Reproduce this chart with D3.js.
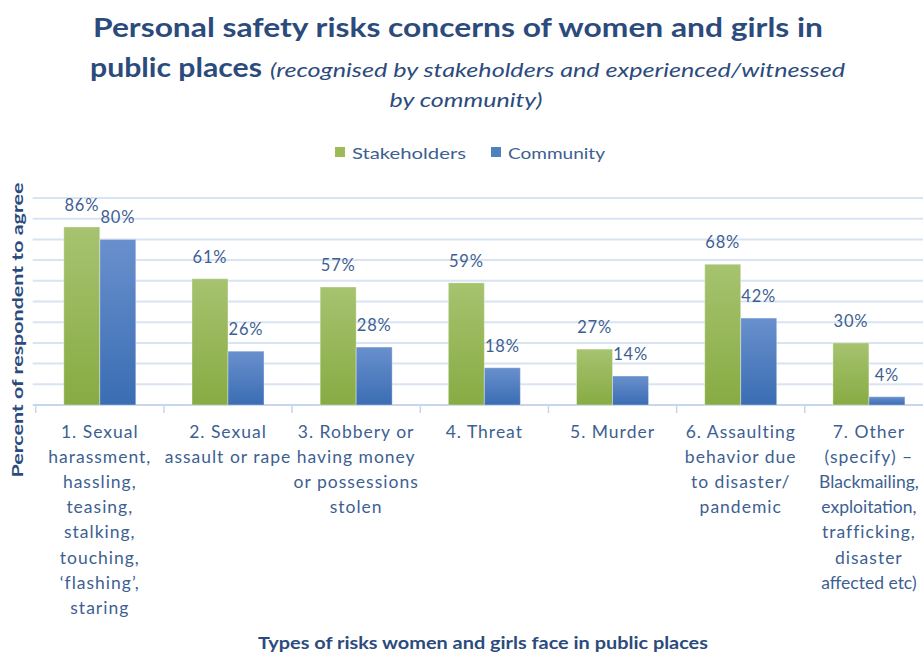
<!DOCTYPE html>
<html>
<head>
<meta charset="utf-8">
<script src="https://cdn.jsdelivr.net/npm/d3@7"></script>
<style>
  html, body { margin: 0; padding: 0; background: #fff; }
  svg { display: block; font-family: Lato, "Open Sans", sans-serif; }
</style>
</head>
<body>
<svg id="chart" width="923" height="655"></svg>
<script>
// Risk categories (each entry is a list of wrapped label lines)
const categories = [
  ["1. Sexual", "harassment,", "hassling,", "teasing,", "stalking,", "touching,", "\u2018flashing\u2019,", "staring"],
  ["2. Sexual", "assault or rape"],
  ["3. Robbery or", "having money", "or possessions", "stolen"],
  ["4. Threat"],
  ["5. Murder"],
  ["6. Assaulting", "behavior due", "to disaster/", "pandemic"],
  ["7. Other", "(specify) \u2013", "Blackmailing,", "exploitation,", "trafficking,", "disaster", "affected etc)"]
];
const seriesNames = ["Stakeholders", "Community"];
const stakeholders = [86, 61, 57, 59, 27, 68, 30];
const community = [80, 26, 28, 18, 14, 42, 4];
const yTicks = [0, 10, 20, 30, 40, 50, 60, 70, 80, 90, 100];

const svg = d3.select("#chart");
const W = 923, H = 655;
const plot = { left: 35.7, right: 933, top: 198, bottom: 405 };

const titleColor = "#2c4b7d";
const textColor = "#3d5f92";

// gradients for bars
const defs = svg.append("defs");
function grad(id, top, bottom) {
  const g = defs.append("linearGradient").attr("id", id)
    .attr("x1", 0).attr("y1", 0).attr("x2", 0).attr("y2", 1);
  g.append("stop").attr("offset", "0%").attr("stop-color", top);
  g.append("stop").attr("offset", "100%").attr("stop-color", bottom);
}
grad("gGreen", "#a6c36f", "#88ab43");
grad("gBlue", "#6990cd", "#3a6db3");
const fills = ["url(#gGreen)", "url(#gBlue)"];
const legendFills = ["#9bbb59", "#4f81bd"];

const x = d3.scaleBand().domain(d3.range(categories.length))
  .range([plot.left, plot.right]).paddingInner(0).paddingOuter(0);
const xs = d3.scaleBand().domain([0, 1]).range([0, 72]);
const groupOffset = (x.bandwidth() - 72) / 2;
const y = d3.scaleLinear().domain([0, 100]).range([plot.bottom, plot.top]);

// horizontal gridlines
svg.append("g").selectAll("line").data(yTicks.slice(1)).join("line")
  .attr("x1", plot.left - 3).attr("x2", W)
  .attr("y1", d => y(d)).attr("y2", d => y(d))
  .attr("stroke", "#d9e4f3").attr("stroke-width", 2);

// x axis baseline with category separators
const xAxis = d3.axisBottom(x).tickValues([]).tickSizeOuter(0);
const axisG = svg.append("g").attr("transform", `translate(0,${plot.bottom})`).call(xAxis);
axisG.select(".domain").attr("stroke", "#c6d6ec").attr("stroke-width", 2).attr("d", `M${plot.left - 3},0H${W}`);
axisG.selectAll(".sep").data(d3.range(categories.length + 1)).join("line")
  .attr("class", "sep")
  .attr("x1", i => plot.left + i * x.step()).attr("x2", i => plot.left + i * x.step())
  .attr("y1", 0).attr("y2", 8)
  .attr("stroke", "#c6d6ec").attr("stroke-width", 1.5);

// bars and value labels
const series = [stakeholders, community];
series.forEach((vals, s) => {
  const g = svg.append("g");
  g.selectAll("rect").data(vals).join("rect")
    .attr("x", (d, i) => x(i) + groupOffset + xs(s))
    .attr("y", d => y(d))
    .attr("width", xs.bandwidth())
    .attr("height", d => plot.bottom - y(d))
    .attr("fill", fills[s])
    .attr("stroke", "rgba(255,255,255,0.35)").attr("stroke-width", 1);
  g.selectAll("text").data(vals).join("text")
    .attr("x", (d, i) => x(i) + groupOffset + xs(s) + xs.bandwidth() / 2)
    .attr("y", d => y(d) - 16)
    .attr("text-anchor", "middle")
    .attr("font-size", 16.5)
    .attr("letter-spacing", 0.8)
    .attr("fill", textColor)
    .text(d => d + "%");
});

// category labels; a line that would run past the right edge is tightened
const lab = svg.append("g");
categories.forEach((lines, i) => {
  const cx = x(i) + x.bandwidth() / 2;
  const maxW = 2 * (W - 4 - cx);
  lines.forEach((ln, k) => {
    const t = lab.append("text")
      .attr("x", cx)
      .attr("y", 438 + k * 25.1)
      .attr("text-anchor", "middle")
      .attr("font-size", 17.5)
      .attr("letter-spacing", 1)
      .attr("fill", textColor)
      .text(ln);
    if (t.node().getBBox().width > maxW) {
      t.attr("letter-spacing", 0);
      let fs = 17.5;
      while (t.node().getBBox().width > maxW && fs > 12) {
        fs -= 0.25;
        t.attr("font-size", fs);
      }
    }
  });
});

// title
svg.append("text").attr("x", 458).attr("y", 37)
  .attr("text-anchor", "middle").attr("font-size", 27).attr("font-weight", "bold")
  .attr("fill", titleColor)
  .attr("textLength", 730).attr("lengthAdjust", "spacingAndGlyphs")
  .text("Personal safety risks concerns of women and girls in");
svg.append("text").attr("x", 90).attr("y", 77)
  .attr("font-size", 27).attr("font-weight", "bold").attr("fill", titleColor)
  .attr("textLength", 172).attr("lengthAdjust", "spacingAndGlyphs")
  .text("public places");
svg.append("text").attr("x", 270).attr("y", 77)
  .attr("font-size", 20).attr("font-style", "italic").attr("fill", titleColor)
  .attr("textLength", 575).attr("lengthAdjust", "spacingAndGlyphs")
  .text("(recognised by stakeholders and experienced/witnessed");
svg.append("text").attr("x", 466).attr("y", 107)
  .attr("text-anchor", "middle")
  .attr("font-size", 20).attr("font-style", "italic").attr("fill", titleColor)
  .attr("textLength", 153).attr("lengthAdjust", "spacingAndGlyphs")
  .text("by community)");

// legend
const legendX = [335, 491], legendTextW = [114, 97];
seriesNames.forEach((n, s) => {
  svg.append("rect").attr("x", legendX[s]).attr("y", 147).attr("width", 10).attr("height", 10)
    .attr("fill", legendFills[s]);
  svg.append("text").attr("x", legendX[s] + 17).attr("y", 158.5)
    .attr("font-size", 16).attr("fill", textColor)
    .attr("textLength", legendTextW[s]).attr("lengthAdjust", "spacingAndGlyphs")
    .text(n);
});

// axis titles
svg.append("text")
  .attr("transform", "translate(23,330) rotate(-90)")
  .attr("text-anchor", "middle").attr("font-size", 15).attr("font-weight", "bold")
  .attr("fill", titleColor)
  .attr("textLength", 295).attr("lengthAdjust", "spacingAndGlyphs")
  .text("Percent of respondent to agree");
svg.append("text").attr("x", 483).attr("y", 649)
  .attr("text-anchor", "middle").attr("font-size", 17).attr("font-weight", "bold")
  .attr("fill", titleColor)
  .attr("textLength", 450).attr("lengthAdjust", "spacingAndGlyphs")
  .text("Types of risks women and girls face in public places");
</script>
</body>
</html>
